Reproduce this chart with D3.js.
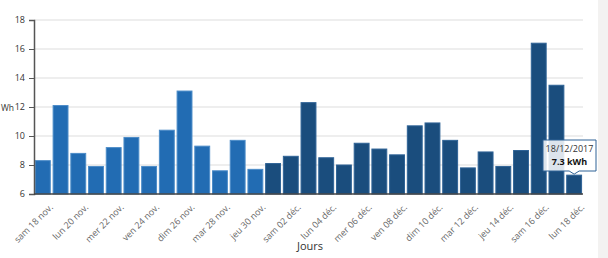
<!DOCTYPE html>
<html><head><meta charset="utf-8">
<script src="https://cdn.jsdelivr.net/npm/d3@7"></script>
<style>
body{margin:0;background:#fff;}
svg{display:block;font-family:"Open Sans",sans-serif;}
</style></head><body>
<svg id="c" width="608" height="258"></svg>
<script>
const days = ["sam 18 nov.","dim 19 nov.","lun 20 nov.","mar 21 nov.","mer 22 nov.","jeu 23 nov.","ven 24 nov.","sam 25 nov.","dim 26 nov.","lun 27 nov.","mar 28 nov.","mer 29 nov.","jeu 30 nov.",
"ven 01 déc.","sam 02 déc.","dim 03 déc.","lun 04 déc.","mar 05 déc.","mer 06 déc.","jeu 07 déc.","ven 08 déc.","sam 09 déc.","dim 10 déc.","lun 11 déc.","mar 12 déc.","mer 13 déc.","jeu 14 déc.","ven 15 déc.","sam 16 déc.","dim 17 déc.","lun 18 déc."];
const values = [8.3,12.1,8.8,7.9,9.2,9.9,7.9,10.4,13.1,9.3,7.6,9.7,7.7,
8.1,8.6,12.3,8.5,8.0,9.5,9.1,8.7,10.7,10.9,9.7,7.8,8.9,7.9,9.0,16.4,13.5,7.3];
const month = ["nov","nov","nov","nov","nov","nov","nov","nov","nov","nov","nov","nov","nov",
"dec","dec","dec","dec","dec","dec","dec","dec","dec","dec","dec","dec","dec","dec","dec","dec","dec","dec"];
const yTicks = [6,8,10,12,14,16,18];
const tip = {index:30, date:"18/12/2017", text:"7.3 kWh"};

const svg = d3.select("#c");
svg.append("rect").attr("x",598).attr("y",0).attr("width",10).attr("height",258).attr("fill","#f3f2f1");

const m = {l:34, r:583, t:20, b:194};
const x = d3.scaleBand().domain(days).range([m.l, m.r]).paddingInner(0.16).paddingOuter(0.08);
const y = d3.scaleLinear().domain([6,18]).range([m.b, m.t]);

svg.append("g").selectAll("line").data(yTicks.filter(d=>d>6)).join("line")
  .attr("x1",m.l).attr("x2",m.r).attr("y1",d=>y(d)).attr("y2",d=>y(d))
  .attr("stroke","#e8e8e8").attr("stroke-width",1.5);

svg.append("g").selectAll("rect").data(values).join("rect")
  .attr("x",(d,i)=>x(days[i])).attr("width",x.bandwidth())
  .attr("y",d=>y(d)).attr("height",d=>y(6)-y(d))
  .attr("fill",(d,i)=>month[i]==="nov"?"#226cb3":"#1a4d7d")
  .attr("stroke",(d,i)=>month[i]==="nov"?"#4c8cc8":"#2f6396").attr("stroke-width",1);

const ya = svg.append("g").attr("transform",`translate(${m.l},0)`)
  .call(d3.axisLeft(y).tickValues(yTicks).tickSize(5).tickPadding(4));
ya.select(".domain").attr("stroke","#555").attr("stroke-width",1.5);
ya.selectAll(".tick line").attr("stroke","#555");
ya.selectAll("text").attr("fill","#333").style("font-size","9px").style("font-family","Open Sans");

const xa = svg.append("g").attr("transform",`translate(0,${m.b})`)
  .call(d3.axisBottom(x).tickValues(days.filter((d,i)=>i%2===0)).tickSize(0).tickPadding(4));
xa.select(".domain").attr("d",`M${m.l},0H${m.r}`).attr("stroke","#444").attr("stroke-width",1.5);
xa.selectAll("text").attr("fill","#666").style("font-size","9px").style("font-family","Open Sans")
  .attr("text-anchor","end").attr("dy","0.3em").attr("dx","0")
  .attr("transform","translate(6,9) rotate(-45)");

svg.append("text").attr("x",310).attr("y",250).attr("text-anchor","middle")
  .attr("fill","#333").style("font-size","11px").text("Jours");
svg.append("text").attr("x",1).attr("y",111).attr("fill","#333").style("font-size","8.5px").text("Wh");

const cx = x(days[tip.index]) + x.bandwidth()/2;
const by = y(values[tip.index]);
const bx0 = 543, bx1 = 596, byt = 140, byb = 171;
const px = cx;
const path = `M${bx0},${byt}H${bx1}V${byb}H${px+5}L${px},${by-1}L${px-5},${byb}H${bx0}Z`;
svg.append("path").attr("d",path).attr("fill","rgba(255,255,255,0.85)")
  .attr("stroke","#2f6396").attr("stroke-width",1);
svg.append("text").attr("x",(bx0+bx1)/2).attr("y",152).attr("text-anchor","middle")
  .attr("fill","#333").style("font-size","9px").text(tip.date);
svg.append("text").attr("x",(bx0+bx1)/2).attr("y",165).attr("text-anchor","middle")
  .attr("fill","#111").style("font-size","9px").style("font-weight","bold").text(tip.text);
</script></body></html>
